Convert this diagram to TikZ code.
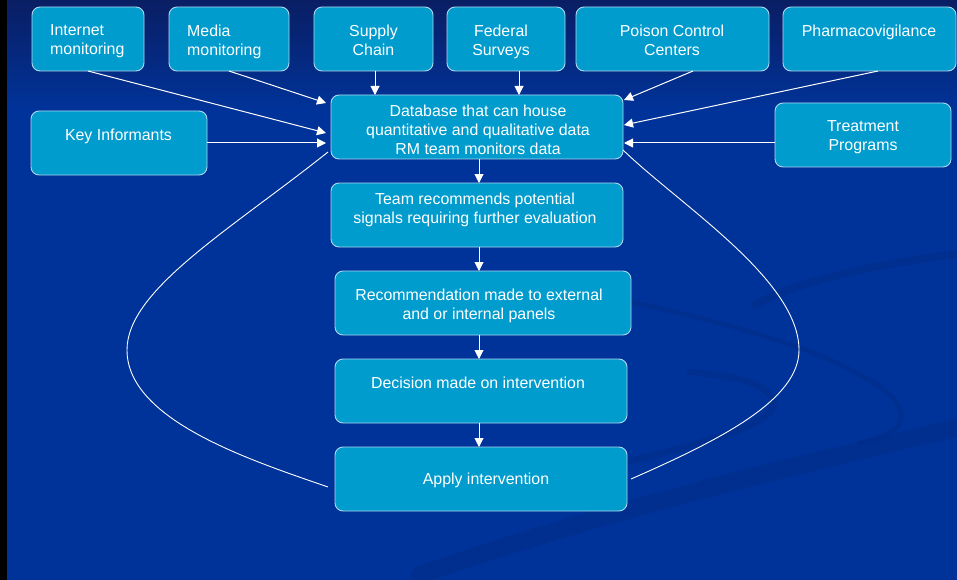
\documentclass[tikz,border=0pt]{standalone}
\usepackage{fontspec}
\setmainfont{Liberation Sans}
\usetikzlibrary{arrows.meta,calc}
\definecolor{bgblue}{RGB}{0,51,153}
\definecolor{topnavy}{RGB}{10,30,100}
\definecolor{swooshc}{RGB}{0,44,138}
\definecolor{boxfill}{RGB}{0,156,206}
\definecolor{boxline}{RGB}{175,215,240}
\newcommand\boxat[5]{\node[box, minimum width={(#4)-(#2)}, minimum height={(#5)-(#3)}] (#1) at ({((#2)+(#4))/2},{((#3)+(#5))/2}) {};}
\begin{document}
\begin{tikzpicture}[x=1pt,y=-1pt,
  box/.style={draw=boxline, line width=0.9pt, fill=boxfill, rounded corners=8pt, inner sep=0pt, outer sep=0pt},
  txt/.style={text=white, font=\fontsize{15.9}{19}\selectfont, inner sep=0pt, align=center},
  arr/.style={draw=white, line width=1pt, -{Triangle[length=9pt,width=9pt]}},
  loopline/.style={draw=white, line width=0.9pt},
  swoosh/.style={draw=swooshc, line cap=round, draw opacity=0.55},
]
% background
\useasboundingbox (0,0) rectangle (957,580);
\fill[bgblue] (0,0) rectangle (957,580);
\shade[top color=topnavy, bottom color=bgblue] (0,0) rectangle (957,110);
\draw[swoosh, line width=18pt] (420,575) .. controls (620,505) and (800,465) .. (990,420);
\draw[swoosh, line width=7pt] (600,468) .. controls (720,440) and (790,420) .. (770,395) .. controls (755,378) and (720,375) .. (690,372);
\draw[swoosh, line width=8pt] (755,305) .. controls (800,280) and (880,262) .. (990,250);
\draw[swoosh, line width=5pt] (620,300) .. controls (720,320) and (820,350) .. (860,375) .. controls (920,405) and (910,435) .. (860,442);
\fill[black] (0,0) rectangle (7,580);

% boxes
\boxat{inet}{32}{7}{144}{71}
\boxat{media}{169}{7}{289}{71}
\boxat{supply}{314}{7}{433}{71}
\boxat{federal}{447}{7}{565}{71}
\boxat{poison}{576}{7}{769}{71}
\boxat{pharma}{783}{7}{956}{71}
\boxat{ki}{31}{111}{207}{175}
\boxat{db}{331}{95}{623}{159}
\boxat{treat}{775}{103}{951}{167}
\boxat{team}{331}{183}{623}{247}
\boxat{rec}{335}{271}{631}{335}
\boxat{dec}{335}{359}{627}{423}
\boxat{apply}{335}{447}{627}{511}

% texts
\node[txt, anchor=north west, align=left] (inett) at (50,24.6) {Internet\\monitoring};
\node[txt, anchor=north west, align=left] (mediat) at (187,24.6) {Media\\monitoring};
\node[txt, anchor=north] (supplyt) at (373.5,24.6) {Supply\\Chain};
\node[txt, anchor=north] (federalt) at (501,24.6) {Federal\\Surveys};
\node[txt, anchor=north] (poisont) at (672,24.6) {Poison Control\\Centers};
\node[txt, anchor=north] (pharmat) at (869,24.6) {Pharmacovigilance};
\node[txt, anchor=north] (kit) at (118.5,128.6) {Key Informants};
\node[txt, anchor=north] (treatt) at (863,120.6) {Treatment\\Programs};
\node[txt, anchor=north] (dbt) at (478,104.6) {Database that can house\\quantitative and qualitative data\\RM team monitors data};
\node[txt, anchor=north] (teamt) at (475,192.6) {Team recommends potential\\signals requiring further evaluation};
\node[txt, anchor=north] (rect) at (479,288.6) {Recommendation made to external\\and or internal panels};
\node[txt, anchor=north] (dect) at (478,376.6) {Decision made on intervention};
\node[txt, anchor=north] (applyt) at (486,472.6) {Apply intervention};

% connector coordinates
\coordinate (sup0) at ($(supply.south)+(1.5,0)$);
\coordinate (fed0) at ($(federal.south)+(13,0)$);
\coordinate (poi0) at ($(poison.south)+(20.5,0)$);
\coordinate (pha0) at ($(pharma.south)+(8.5,0)$);
\coordinate (tre0) at ($(treat.west)+(0,8)$);
\coordinate (vx) at (479,0);
\coordinate (Lstart) at ($(db.south west)+(-3,-7)$);
\coordinate (Lend) at ($(apply.west)+(-7,8)$);
\coordinate (Rstart) at ($(db.south east)+(0,-9)$);
\coordinate (Rend) at ($(apply.east)+(4,0)$);

% arrows into database
\draw[arr] (inet.south) -- ($(db.west)+(-5,6)$);
\draw[arr] (media.south) -- ($(db.west)+(-5,-24)$);
\draw[arr] (ki.east) -- ($(db.west)+(-5,16)$);
\draw[arr] (sup0) -- (sup0 |- db.north);
\draw[arr] (fed0) -- (fed0 |- db.north);
\draw[arr] (poi0) -- ($(db.north east)+(1,5)$);
\draw[arr] (pha0) -- ($(db.east)+(1,-2)$);
\draw[arr] (tre0) -- ($(db.east)+(1,16)$);

% main chain
\draw[arr] (db.south -| vx) -- (team.north -| vx);
\draw[arr] (team.south -| vx) -- (rec.north -| vx);
\draw[arr] (rec.south -| vx) -- (dec.north -| vx);
\draw[arr] (dec.south -| vx) -- (apply.north -| vx);

% loops
\draw[loopline] (Lstart) .. controls (230,230) and (127,290) .. (127,350) .. controls (127,420) and (250,460) .. (Lend);
\draw[loopline] (Rstart) .. controls (680,205) and (799,280) .. (799,350) .. controls (799,400) and (720,440) .. (Rend);
\end{tikzpicture}
\end{document}
